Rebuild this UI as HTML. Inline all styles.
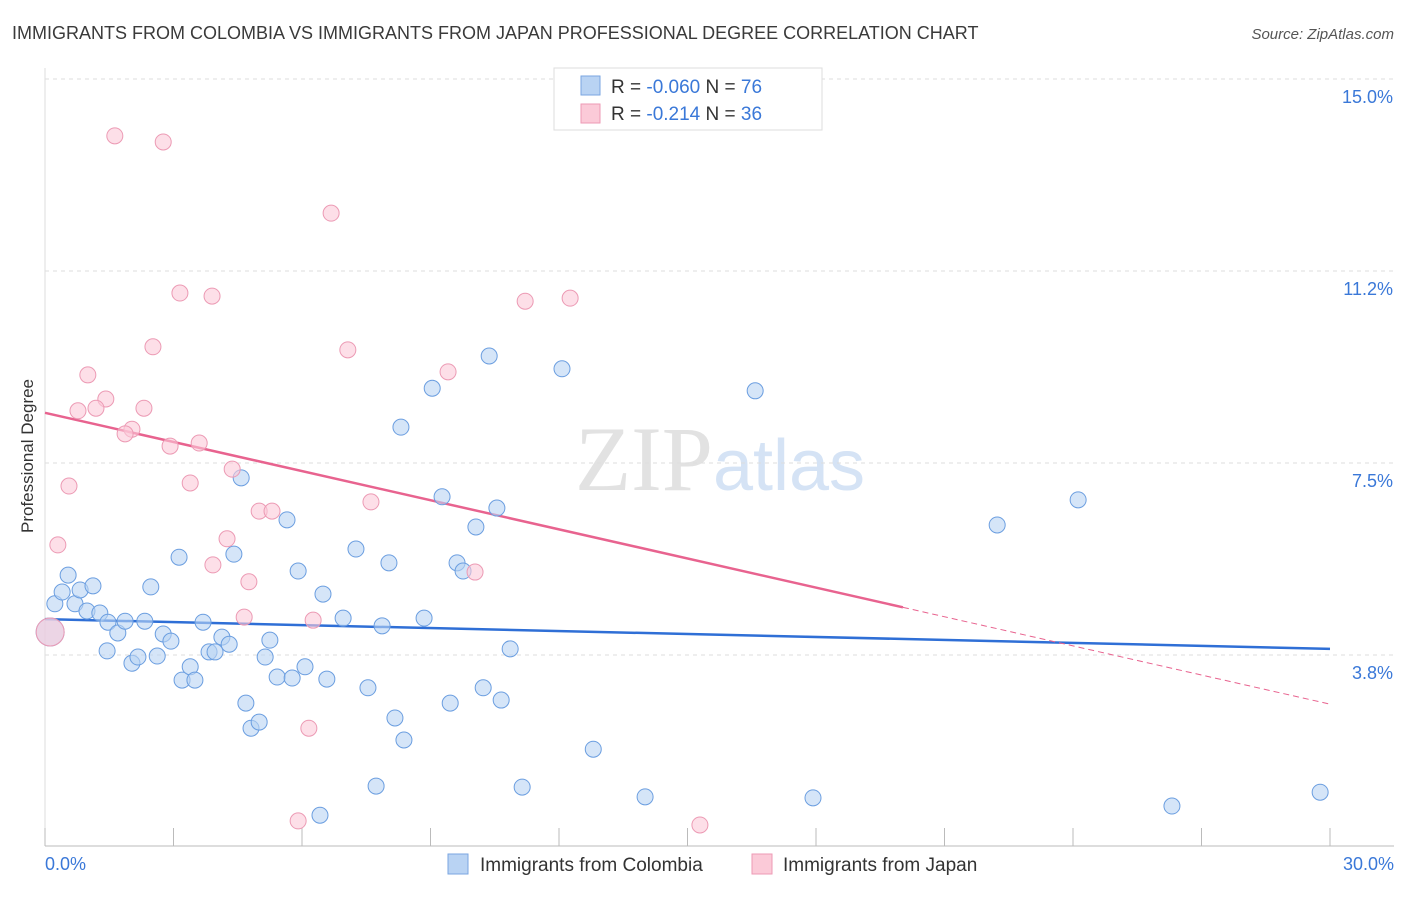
<!DOCTYPE html>
<html><head><meta charset="utf-8"><style>
body{margin:0;background:#fff;font-family:"Liberation Sans",sans-serif;}
svg text{font-family:"Liberation Sans",sans-serif;}
</style></head><body>
<svg id="chart" width="1406" height="892" xmlns="http://www.w3.org/2000/svg">
<text x="12" y="39" font-size="18" fill="#3a3a3a">IMMIGRANTS FROM COLOMBIA VS IMMIGRANTS FROM JAPAN PROFESSIONAL DEGREE CORRELATION CHART</text>
<text x="1394" y="39" font-size="15" fill="#555" text-anchor="end" font-style="italic">Source: ZipAtlas.com</text>
<text x="720" y="490" font-size="92" text-anchor="middle"><tspan fill="#e2e2e2" font-family="Liberation Serif">ZIP</tspan><tspan fill="#d5e3f5" font-size="72">atlas</tspan></text>
<text transform="translate(33,456) rotate(-90)" font-size="17" fill="#333" text-anchor="middle">Professional Degree</text>
<g id="grid"></g><g id="axes"></g><g id="trends"></g><g id="points"></g>
<g>
<rect x="554" y="68" width="268" height="62" fill="#fff" stroke="#ddd"/>
<rect x="581" y="76" width="19" height="19" fill="#b9d3f3" stroke="#7aa6e0"/>
<rect x="581" y="104" width="19" height="19" fill="#fbcad8" stroke="#ee9ab5"/>
<text x="611" y="93" font-size="19" fill="#333">R = <tspan fill="#3a78d8">-0.060</tspan>   N = <tspan fill="#3a78d8">76</tspan></text>
<text x="611" y="120" font-size="19" fill="#333">R =  <tspan fill="#3a78d8">-0.214</tspan>   N = <tspan fill="#3a78d8">36</tspan></text>
</g>
<g>
<rect x="448" y="854" width="20" height="20" fill="#b9d3f3" stroke="#7aa6e0"/>
<text x="480" y="871" font-size="19" fill="#333">Immigrants from Colombia</text>
<rect x="752" y="854" width="20" height="20" fill="#fbcad8" stroke="#ee9ab5"/>
<text x="783" y="871" font-size="19" fill="#333">Immigrants from Japan</text>
</g>
</svg>
<script>
const blueX=[0.23,0.54,0.40,0.70,0.82,0.98,1.12,1.28,1.47,1.70,1.87,1.45,2.03,2.17,2.33,2.47,2.62,2.76,2.94,3.13,3.20,3.39,3.50,3.69,3.83,3.97,4.13,4.30,4.41,4.58,4.69,4.81,5.00,5.14,5.25,5.42,5.65,5.77,5.91,6.07,6.42,6.49,6.58,6.96,7.26,7.54,7.73,7.87,8.03,8.17,8.31,8.38,8.85,9.04,9.27,9.46,9.62,9.76,10.06,10.23,10.37,10.55,10.65,10.86,11.14,12.07,12.80,14.01,16.58,17.93,22.23,24.12,26.31,29.77,0.12];
const blueY=[4.75,5.31,4.98,4.75,5.02,4.61,5.10,4.57,4.39,4.18,4.41,3.83,3.59,3.71,4.41,5.08,3.73,4.16,4.02,5.66,3.26,3.52,3.26,4.39,3.81,3.81,4.10,3.96,5.72,7.21,2.81,2.32,2.44,3.71,4.04,3.32,6.39,3.30,5.39,3.52,0.62,4.94,3.28,4.47,5.82,3.11,1.19,4.32,5.55,2.52,8.20,2.09,4.47,8.96,6.84,2.81,5.55,5.39,6.25,3.11,9.59,6.62,2.87,3.87,1.17,9.34,1.91,0.98,8.91,0.96,6.29,6.78,0.80,1.07,4.20];
const pinkX=[1.63,2.76,6.68,3.15,3.90,11.21,12.26,2.52,7.07,1.00,9.41,1.42,0.77,1.19,2.31,2.03,1.87,3.60,2.92,3.39,0.56,4.37,7.61,5.00,5.30,4.25,0.30,10.04,3.92,4.76,4.65,6.26,6.16,5.91,15.29,0.12];
const pinkY=[13.89,13.77,12.38,10.82,10.76,10.66,10.72,9.77,9.71,9.22,9.28,8.75,8.52,8.57,8.57,8.16,8.07,7.89,7.83,7.11,7.05,7.38,6.74,6.56,6.56,6.02,5.90,5.37,5.51,5.18,4.49,4.43,2.32,0.51,0.43,4.20];
const yTicks=[3.75,7.5,11.25,15];
const yTickLabels=["3.8%","7.5%","11.2%","15.0%"];
const xTicks=[0,3,6,9,12,15,18,21,24,27,30];
const blueTrend=[4.45,3.87];
const pinkTrend=[8.48,2.79];
const pinkSolidEnd=20.03;
const NS="http://www.w3.org/2000/svg";
const sx=v=>45+v/30*1285, sy=v=>847-v*51.2;
function mk(tag,parent,attrs){const e=document.createElementNS(NS,tag);for(const k in attrs)e.setAttribute(k,attrs[k]);document.getElementById(parent).appendChild(e);return e;}
yTicks.forEach((t,i)=>{
 const g=mk('line','grid',{x1:45,x2:1394,y1:sy(t),y2:sy(t),stroke:'#ddd','stroke-dasharray':'4,4'});
 
 
 const l=mk('text','axes',{x:1393,y:sy(t)+24,'font-size':18,fill:'#3a78d8','text-anchor':'end'});
 l.textContent=yTickLabels[i];
 
 
});
const ax=mk('line','axes',{x1:45,x2:1394,y1:846,y2:846,stroke:'#bbb'});


const ay=mk('line','axes',{x1:45,x2:45,y1:68,y2:846,stroke:'#ddd'});


xTicks.forEach(t=>{const k=mk('line','axes',{x1:sx(t),x2:sx(t),y1:828,y2:846,stroke:'#bbb'});
 
 });
const x0=mk('text','axes',{x:45,y:870,'font-size':18,fill:'#3a78d8'});x0.textContent='0.0%';


const x1=mk('text','axes',{x:1394,y:870,'font-size':18,fill:'#3a78d8','text-anchor':'end'});x1.textContent='30.0%';


function addPts(X,Y,fill,stroke,name){X.forEach((x,i)=>{const big=i===X.length-1;
 const c=mk('circle','points',{cx:sx(x),cy:sy(Y[i]),r:big?14:8,fill:fill,'fill-opacity':0.6,stroke:stroke,'stroke-width':1});
 
 });}
addPts(blueX,blueY,'#b9d3f3','#6b9ee0','colombia-point');
addPts(pinkX,pinkY,'#fbcad8','#ec9ab4','japan-point');
const bt=mk('line','trends',{x1:sx(0),y1:sy(blueTrend[0]),x2:sx(30),y2:sy(blueTrend[1]),stroke:'#2f6fd6','stroke-width':2.5});


const py=x=>pinkTrend[0]+(pinkTrend[1]-pinkTrend[0])*x/30;
const pt=mk('line','trends',{x1:sx(0),y1:sy(py(0)),x2:sx(pinkSolidEnd),y2:sy(py(pinkSolidEnd)),stroke:'#e8638f','stroke-width':2.5});


const pd=mk('line','trends',{x1:sx(pinkSolidEnd),y1:sy(py(pinkSolidEnd)),x2:sx(30),y2:sy(py(30)),stroke:'#e8638f','stroke-width':1,'stroke-dasharray':'6,4'});


</script>
</body></html>
